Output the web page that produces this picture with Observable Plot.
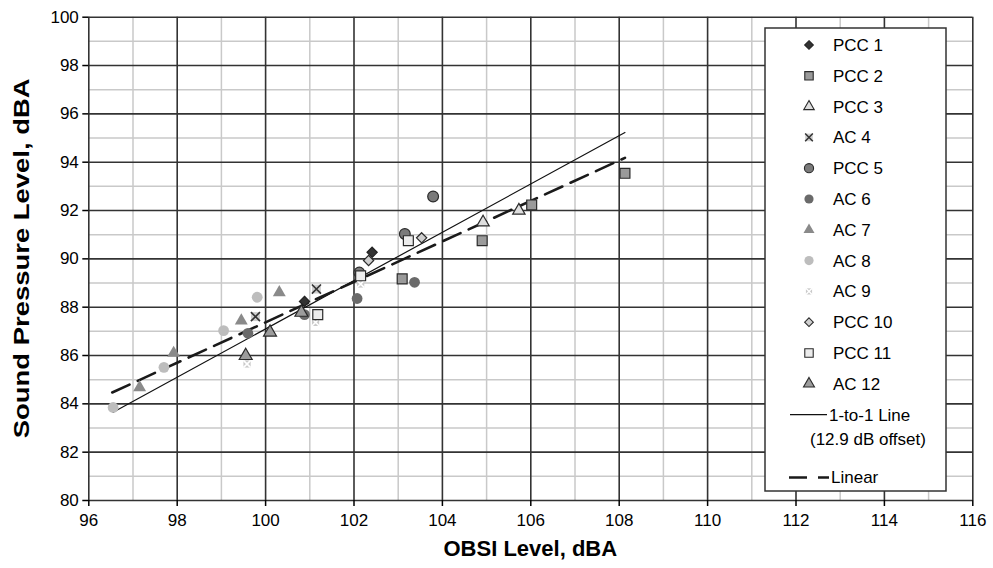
<!DOCTYPE html>
<html>
<head>
<meta charset="utf-8">
<script src="https://cdn.jsdelivr.net/npm/d3@7"></script>
<script src="https://cdn.jsdelivr.net/npm/@observablehq/plot@0.6"></script>
<style>
  html, body { margin: 0; padding: 0; background: #fff; }
  #chart { width: 993px; height: 568px; }
</style>
</head>
<body>
<div id="chart"></div>
<script>
// Axis ticks and gridlines
const xTicks = [96, 98, 100, 102, 104, 106, 108, 110, 112, 114, 116];
const xMinor = [97, 99, 101, 103, 105, 107, 109, 111, 113, 115];
const yTicks = [80, 82, 84, 86, 88, 90, 92, 94, 96, 98, 100];
const yMinor = [81, 83, 85, 87, 89, 91, 93, 95, 97, 99];

// Measurements: [OBSI level, sound pressure level] in dBA
const pcc1  = [[100.88, 88.24], [102.41, 90.27]];
const pcc2  = [[103.09, 89.17], [104.90, 90.75], [106.02, 92.23], [108.13, 93.54]];
const pcc3  = [[104.92, 91.51], [105.73, 92.00]];
const ac4   = [[99.77, 87.61], [101.15, 88.75]];
const pcc5  = [[102.12, 89.43], [103.15, 91.03], [103.79, 92.58]];
const ac6   = [[99.60, 86.92], [100.88, 87.69], [102.07, 88.36], [103.37, 89.03]];
const ac7   = [[97.15, 84.68], [97.92, 86.10], [99.45, 87.44], [100.31, 88.61]];
const ac8   = [[96.55, 83.85], [97.70, 85.51], [99.05, 87.03], [99.81, 88.41]];
const ac9   = [[99.58, 85.65], [101.13, 87.37], [102.15, 88.96]];
const pcc10 = [[102.33, 89.93], [103.53, 90.87]];
const pcc11 = [[101.18, 87.69], [102.15, 89.30], [103.23, 90.75]];
const ac12  = [[99.55, 85.99], [100.10, 86.96], [100.81, 87.78]];

// Reference lines
const offsetDb = 12.9;                 // 1-to-1 line: SPL = OBSI - 12.9
const oneToOneX = [96.55, 108.13];
const linearFit = [[96.53, 84.47], [108.13, 94.18]];

// Series styling (drawn in this order, legend in the same order)
const seriesList = [
  {name: "PCC 1",  data: pcc1,  symbol: "diamond2", r: 4.6, fill: "#333",    stroke: "#222"},
  {name: "PCC 2",  data: pcc2,  symbol: "square",   r: 5.6, fill: "#9a9a9a", stroke: "#2a2a2a"},
  {name: "PCC 3",  data: pcc3,  symbol: "triangle", r: 4.6, fill: "#dedede", stroke: "#2a2a2a"},
  {name: "AC 4",   data: ac4,   symbol: "times",    r: 4.2, fill: "#cfcfcf", stroke: "#333", box: true},
  {name: "PCC 5",  data: pcc5,  symbol: "circle",   r: 5.4, fill: "#7a7a7a", stroke: "#2a2a2a"},
  {name: "AC 6",   data: ac6,   symbol: "circle",   r: 5.4, fill: "#6a6a6a", stroke: "none"},
  {name: "AC 7",   data: ac7,   symbol: "triangle", r: 4.8, fill: "#8a8a8a", stroke: "none"},
  {name: "AC 8",   data: ac8,   symbol: "circle",   r: 5.4, fill: "#bdbdbd", stroke: "none"},
  {name: "AC 9",   data: ac9,   symbol: "times",    r: 3.4, fill: "#cacaca", stroke: "#fff", box: true},
  {name: "PCC 10", data: pcc10, symbol: "diamond2", r: 4.6, fill: "#cfcfcf", stroke: "#2a2a2a"},
  {name: "PCC 11", data: pcc11, symbol: "square",   r: 5.6, fill: "#ececec", stroke: "#2a2a2a"},
  {name: "AC 12",  data: ac12,  symbol: "triangle", r: 4.8, fill: "#9c9c9c", stroke: "#2a2a2a"}
];

const fontFamily = "'Liberation Sans', Arial, Helvetica, sans-serif";

function seriesMarks(s) {
  const marks = [];
  if (s.box) {
    marks.push(Plot.dot(s.data, {x: d => d[0], y: d => d[1], symbol: "square", r: s.r * 1.2, fill: s.fill, stroke: "none"}));
    marks.push(Plot.dot(s.data, {x: d => d[0], y: d => d[1], symbol: "times", r: s.r, fill: "none", stroke: s.stroke, strokeWidth: 1.6}));
  } else {
    marks.push(Plot.dot(s.data, {x: d => d[0], y: d => d[1], symbol: s.symbol, r: s.r, fill: s.fill, stroke: s.stroke, strokeWidth: 1.2}));
  }
  return marks;
}

const oneToOne = oneToOneX.map(x => [x, x - offsetDb]);

const chart = Plot.plot({
  width: 993,
  height: 568,
  marginLeft: 88.3,
  marginRight: 20.7,
  marginTop: 16.7,
  marginBottom: 68,
  style: {fontFamily, fontSize: "17px", color: "#000", background: "#fff", overflow: "visible"},
  x: {domain: [96, 116]},
  y: {domain: [80, 100]},
  marks: [
    Plot.gridX({ticks: xMinor, stroke: "#c9c9c9", strokeOpacity: 1, strokeWidth: 1.5}),
    Plot.gridY({ticks: yMinor, stroke: "#c9c9c9", strokeOpacity: 1, strokeWidth: 1.5}),
    Plot.gridX({ticks: xTicks, stroke: "#333", strokeOpacity: 1, strokeWidth: 1.6}),
    Plot.gridY({ticks: yTicks, stroke: "#333", strokeOpacity: 1, strokeWidth: 1.6}),
    Plot.axisX({ticks: xTicks, tickSize: 6, tickPadding: 7, label: null, tickFormat: d => String(d), strokeWidth: 1.5}),
    Plot.axisY({ticks: yTicks, tickSize: 6, tickPadding: 4, label: null, tickFormat: d => String(d), strokeWidth: 1.5}),
    Plot.line(oneToOne, {x: d => d[0], y: d => d[1], stroke: "#111", strokeWidth: 1.2}),
    Plot.line(linearFit, {x: d => d[0], y: d => d[1], stroke: "#1a1a1a", strokeWidth: 2.6, strokeDasharray: "19,9"}),
    ...seriesList.flatMap(seriesMarks)
  ]
});

const svg = d3.select(chart);

// Axis titles
svg.append("text")
  .attr("x", (88.3 + 972.3) / 2).attr("y", 556)
  .attr("text-anchor", "middle")
  .attr("font-family", fontFamily).attr("font-size", 22).attr("font-weight", "bold")
  .text("OBSI Level, dBA");
svg.append("text")
  .attr("transform", `translate(29,${(16.7 + 500) / 2}) rotate(-90)`)
  .attr("text-anchor", "middle")
  .attr("font-family", fontFamily).attr("font-size", 22).attr("font-weight", "bold")
  .attr("textLength", 360).attr("lengthAdjust", "spacingAndGlyphs")
  .text("Sound Pressure Level, dBA");

// Legend box
const lg = svg.append("g").attr("font-family", fontFamily).attr("font-size", 17).attr("text-anchor", "start");
lg.append("rect").attr("x", 765).attr("y", 28).attr("width", 181).attr("height", 463)
  .attr("fill", "#fff").attr("stroke", "#333").attr("stroke-width", 1.5);

const symbolTypes = {
  circle: d3.symbolCircle, square: d3.symbolSquare, triangle: d3.symbolTriangle,
  diamond2: d3.symbolDiamond2, times: d3.symbolTimes
};
const rowY0 = 45, rowStep = 30.8, markX = 809, textX = 833;
seriesList.forEach((s, i) => {
  const cy = rowY0 + i * rowStep;
  const g = lg.append("g").attr("transform", `translate(${markX},${cy})`);
  const scale = 0.85;
  if (s.box) {
    g.append("path").attr("d", d3.symbol(d3.symbolSquare, Math.PI * (s.r * 1.2 * scale) ** 2)())
      .attr("fill", s.fill);
    g.append("path").attr("d", d3.symbol(d3.symbolTimes, Math.PI * (s.r * scale) ** 2)())
      .attr("fill", "none").attr("stroke", s.stroke).attr("stroke-width", 1.5);
  } else {
    g.append("path").attr("d", d3.symbol(symbolTypes[s.symbol], Math.PI * (s.r * scale) ** 2)())
      .attr("fill", s.fill).attr("stroke", s.stroke).attr("stroke-width", 1.1);
  }
  lg.append("text").attr("x", textX).attr("y", cy).attr("dy", "0.35em").text(s.name);
});

// Legend entries for the two lines
const lineRowY = rowY0 + 12 * rowStep;
lg.append("line").attr("x1", 790).attr("x2", 827).attr("y1", lineRowY).attr("y2", lineRowY)
  .attr("stroke", "#111").attr("stroke-width", 1.2);
lg.append("text").attr("x", 829).attr("y", lineRowY).attr("dy", "0.35em").text("1-to-1 Line");
lg.append("text").attr("x", 810).attr("y", lineRowY + 24.5).attr("dy", "0.35em").text(`(${offsetDb} dB offset)`);
const linRowY = 477.5;
lg.append("line").attr("x1", 789).attr("x2", 829).attr("y1", linRowY).attr("y2", linRowY)
  .attr("stroke", "#1a1a1a").attr("stroke-width", 2.6).attr("stroke-dasharray", "18,11");
lg.append("text").attr("x", 831).attr("y", linRowY).attr("dy", "0.35em").text("Linear");

document.getElementById("chart").appendChild(chart);
</script>
</body>
</html>
